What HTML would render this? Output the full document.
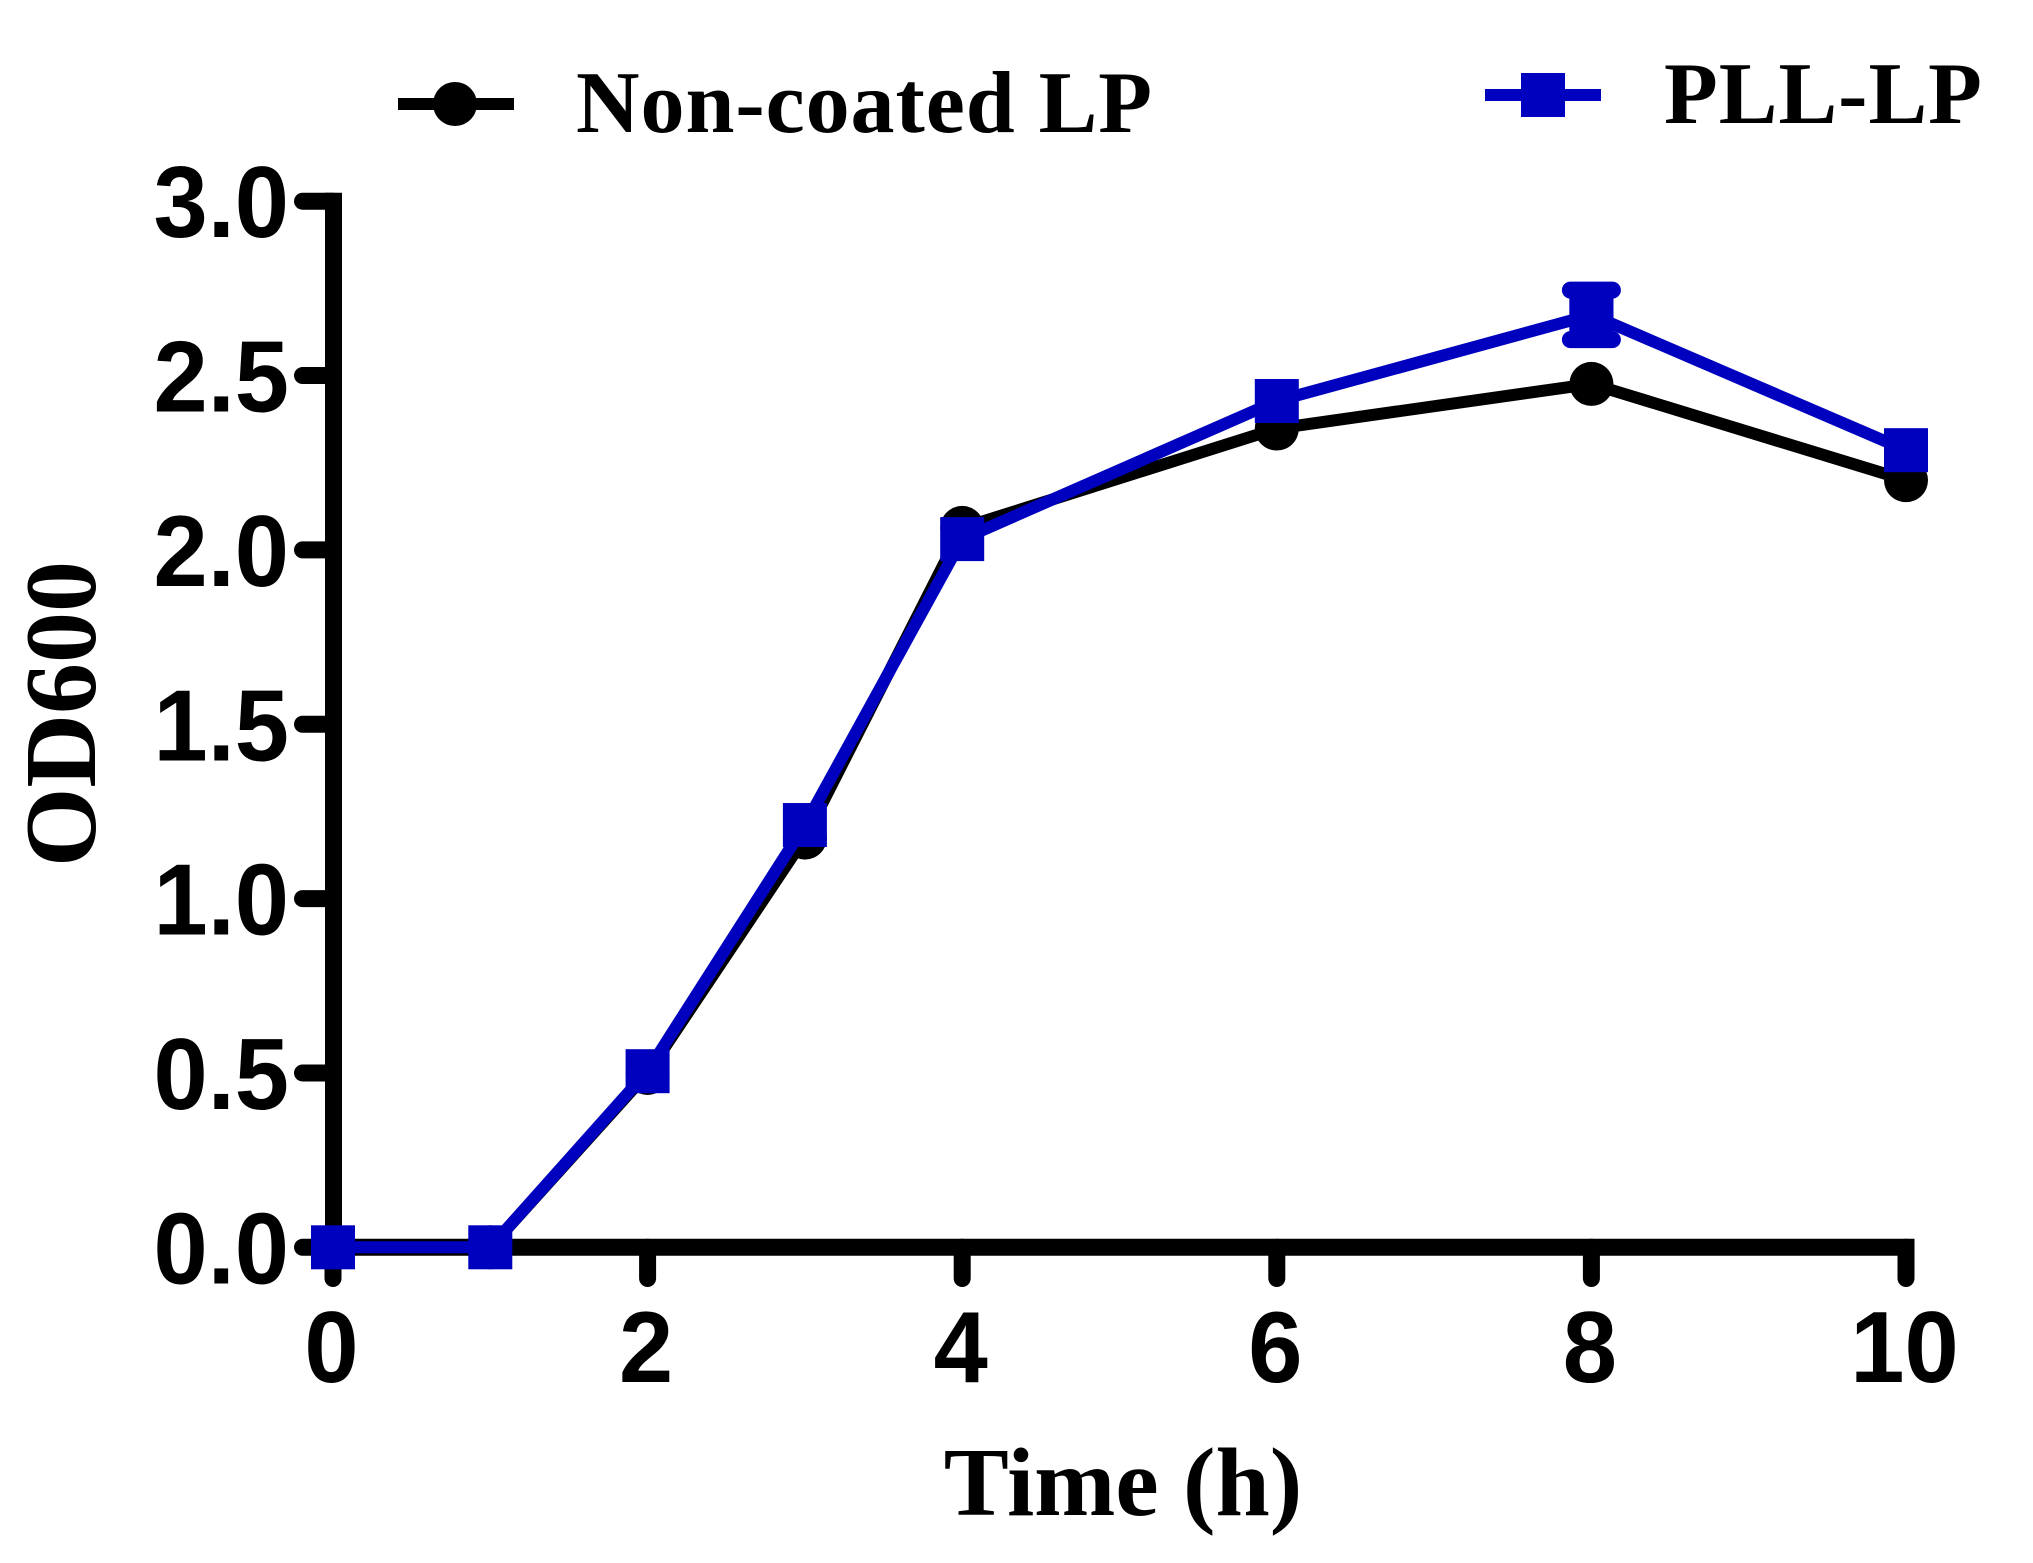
<!DOCTYPE html>
<html lang="en">
<head>
<meta charset="utf-8">
<title>OD600 growth curve</title>
<style>
html,body{margin:0;padding:0;background:#fff;}
svg{display:block;}
.tick{font-family:"Liberation Sans",sans-serif;font-weight:700;font-size:101px;fill:#000;}
.serif{font-family:"Liberation Serif",serif;font-weight:700;fill:#000;}
</style>
</head>
<body>
<svg id="chart" xmlns="http://www.w3.org/2000/svg" width="2033" height="1563" viewBox="0 0 2033 1563">
  <rect width="2033" height="1563" fill="#fff"/>
  <g id="axes"></g>
  <g id="series"></g>
  <text class="serif" x="1123" y="1515" font-size="97.5" text-anchor="middle">Time (h)</text>
  <text class="serif" transform="translate(95,714) rotate(-90)" font-size="102" text-anchor="middle">OD600</text>
  <g>
    <line x1="398" x2="514" y1="104" y2="104" stroke="#000" stroke-width="12"/>
    <circle cx="455" cy="104" r="22" fill="#000"/>
    <text class="serif" x="576" y="132" font-size="88" letter-spacing="0.95">Non-coated LP</text>
  </g>
  <g>
    <line x1="1485" x2="1601" y1="95" y2="95" stroke="#0000BF" stroke-width="12"/>
    <rect x="1521" y="73" width="44" height="44" fill="#0000BF"/>
    <text class="serif" x="1664" y="123" font-size="88" letter-spacing="1">PLL-LP</text>
  </g>
</svg>
<script>
var timePoints = [0, 1, 2, 3, 4, 6, 8, 10];
var nonCoatedValues = [0, 0, 0.50, 1.175, 2.063, 2.348, 2.476, 2.20];
var pllValues = [0, 0, 0.505, 1.211, 2.031, 2.427, 2.674, 2.286];
var pllErrors = [0, 0, 0, 0, 0, 0, 0.071, 0];
var xTickValues = [0, 2, 4, 6, 8, 10];
var xTickLabels = ["0", "2", "4", "6", "8", "10"];
var yTickValues = [0, 0.5, 1, 1.5, 2, 2.5, 3];
var yTickLabels = ["0.0", "0.5", "1.0", "1.5", "2.0", "2.5", "3.0"];

var NS = 'http://www.w3.org/2000/svg';
function xScale(t) { return 333 + 157.3 * t; }
function yScale(v) { return 1247.3 - 348.7 * v; }
function make(tag, parent, attrs) {
  var el = document.createElementNS(NS, tag);
  for (var k in attrs) { el.setAttribute(k, attrs[k]); }
  parent.appendChild(el);
  return el;
}
var axes = document.getElementById('axes');
var seriesGroup = document.getElementById('series');
var BLUE = '#0000BF';

var yAxis = make('line', axes, {x1: xScale(0) + 0.5, x2: xScale(0) + 0.5, y1: yScale(3) - 8.5, y2: yScale(0), stroke: '#000', 'stroke-width': 17});


var xAxis = make('line', axes, {x1: xScale(0), x2: xScale(10) + 8.5, y1: yScale(0), y2: yScale(0), stroke: '#000', 'stroke-width': 17});



yTickValues.forEach(function (v, i) {
  var y = yScale(v);
  var tick = make('line', axes, {x1: 302.5, x2: xScale(0), y1: y, y2: y, stroke: '#000', 'stroke-width': 17, 'stroke-linecap': 'round'});
  
  
  var label = make('text', axes, {transform: 'translate(289,' + (y + 36) + ') scale(0.965,1)', 'text-anchor': 'end', 'class': 'tick'});
  
  
  label.textContent = yTickLabels[i];
});

xTickValues.forEach(function (t, i) {
  var x = xScale(t);
  var tick = make('line', axes, {x1: x, x2: x, y1: yScale(0), y2: 1278.5, stroke: '#000', 'stroke-width': 17, 'stroke-linecap': 'round'});
  
  
  var label = make('text', axes, {transform: 'translate(' + (x - 1.5) + ',1382) scale(0.965,1)', 'text-anchor': 'middle', 'class': 'tick'});
  
  
  label.textContent = xTickLabels[i];
});

function pointsFor(values) {
  return timePoints.map(function (t, i) { return xScale(t) + ',' + yScale(values[i]); }).join(' ');
}

var blackLine = make('polyline', seriesGroup, {points: pointsFor(nonCoatedValues), fill: 'none', stroke: '#000', 'stroke-width': 12, 'stroke-linejoin': 'round'});


timePoints.forEach(function (t, i) {
  var c = make('circle', seriesGroup, {cx: xScale(t), cy: yScale(nonCoatedValues[i]), r: 22, fill: '#000'});
  
  
});

var blueLine = make('polyline', seriesGroup, {points: pointsFor(pllValues), fill: 'none', stroke: BLUE, 'stroke-width': 12, 'stroke-linejoin': 'round'});


timePoints.forEach(function (t, i) {
  var x = xScale(t);
  var y = yScale(pllValues[i]);
  if (pllErrors[i] > 0) {
    var top = yScale(pllValues[i] + pllErrors[i]);
    var bottom = yScale(pllValues[i] - pllErrors[i]);
    var stem = make('line', seriesGroup, {x1: x, x2: x, y1: top, y2: bottom, stroke: BLUE, 'stroke-width': 44});
    
    
    [top, bottom].forEach(function (capY) {
      var cap = make('line', seriesGroup, {x1: x - 21, x2: x + 21, y1: capY, y2: capY, stroke: BLUE, 'stroke-width': 17, 'stroke-linecap': 'round'});
      
      
    });
  }
  var s = make('rect', seriesGroup, {x: x - 22, y: y - 22, width: 44, height: 44, fill: BLUE});
  
  
});
</script>
</body>
</html>
